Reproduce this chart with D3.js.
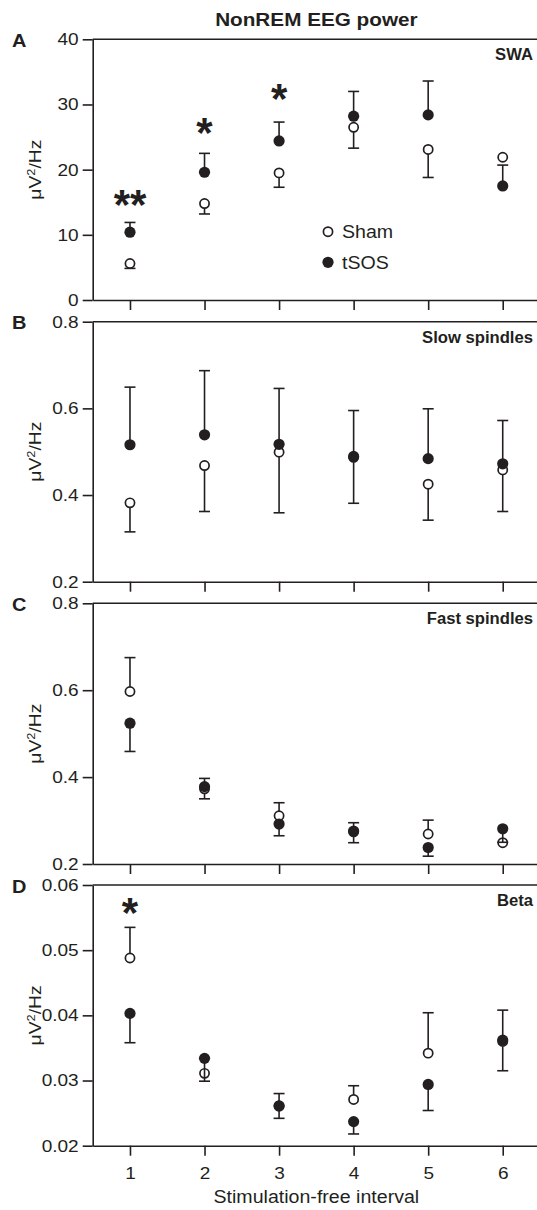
<!DOCTYPE html>
<html>
<head>
<meta charset="utf-8">
<script src="https://cdn.jsdelivr.net/npm/d3@7"></script>
<style>
  html, body { margin: 0; padding: 0; background: #fff; }
  svg { display: block; }
  text { font-family: "Liberation Sans", Arial, sans-serif; fill: #231f20; }
</style>
</head>
<body>
<svg id="chart" width="537" height="1210"></svg>
<script>
// ---------- DATA ----------
const intervals = [1, 2, 3, 4, 5, 6];
const intervalLabels = ["1", "2", "3", "4", "5", "6"];

// A: SWA
const swaSham     = [5.6, 14.8, 19.5, 26.5, 23.1, 21.9];
const swaShamErr  = [4.85, 13.2, 17.3, 23.3, 18.8, null];
const swaTsos     = [10.4, 19.6, 24.4, 28.2, 28.4, 17.5];
const swaTsosErr  = [11.9, 22.5, 27.3, 32.0, 33.6, 20.7];
const swaTicks    = [0, 10, 20, 30, 40];
const swaTickLabels = ["0", "10", "20", "30", "40"];
const swaSigX     = [1, 2, 3];
const swaSigMarks = ["**", "*", "*"];
const swaSigLevel = [16.1, 27.1, 32.3];

// B: Slow spindles
const slowSham    = [0.382, 0.468, 0.499, 0.487, 0.425, 0.458];
const slowShamErr = [0.315, 0.362, 0.359, 0.381, 0.342, 0.362];
const slowTsos    = [0.516, 0.539, 0.517, 0.489, 0.484, 0.472];
const slowTsosErr = [0.649, 0.687, 0.646, 0.595, 0.599, 0.572];
const spindleTicks = [0.2, 0.4, 0.6, 0.8];
const spindleTickLabels = ["0.2", "0.4", "0.6", "0.8"];

// C: Fast spindles
const fastSham    = [0.597, 0.373, 0.311, 0.274, 0.269, 0.249];
const fastShamErr = [0.675, 0.350, 0.341, 0.249, 0.301, null];
const fastTsos    = [0.524, 0.378, 0.292, 0.276, 0.238, 0.281];
const fastTsosErr = [0.459, 0.397, 0.265, 0.295, 0.218, 0.250];

// D: Beta
const betaSham    = [0.0488, 0.0311, 0.0261, 0.0271, 0.0342, 0.0360];
const betaShamErr = [0.0535, null, 0.0242, 0.0292, 0.0404, 0.0315];
const betaTsos    = [0.0403, 0.0334, 0.0261, 0.0237, 0.0294, 0.0362];
const betaTsosErr = [0.0358, 0.0299, 0.0280, 0.0218, 0.0254, 0.0408];
const betaTicks   = [0.02, 0.03, 0.04, 0.05, 0.06];
const betaTickLabels = ["0.02", "0.03", "0.04", "0.05", "0.06"];
const betaSigX     = [1];
const betaSigMarks = ["*"];
const betaSigLevel = [0.0572];

const seriesNames = ["Sham", "tSOS"];

// ---------- LAYOUT ----------
const ink = "#231f20";
const svg = d3.select("#chart");
const x = d3.scaleLinear().domain([0.5, 6.5]).range([92.7, 540]);
const SX = 1.12; // horizontal stretch of text

const panels = [
  {letter: "A", name: "SWA", top: 39.3, bottom: 300, domain: [0, 40], ticks: swaTicks, tickLabels: swaTickLabels,
   sham: swaSham, shamErr: swaShamErr, tsos: swaTsos, tsosErr: swaTsosErr,
   sigX: swaSigX, sigMarks: swaSigMarks, sigLevel: swaSigLevel, legend: true},
  {letter: "B", name: "Slow spindles", top: 321.7, bottom: 581.7, domain: [0.2, 0.8], ticks: spindleTicks, tickLabels: spindleTickLabels,
   sham: slowSham, shamErr: slowShamErr, tsos: slowTsos, tsosErr: slowTsosErr},
  {letter: "C", name: "Fast spindles", top: 603.3, bottom: 864, domain: [0.2, 0.8], ticks: spindleTicks, tickLabels: spindleTickLabels,
   sham: fastSham, shamErr: fastShamErr, tsos: fastTsos, tsosErr: fastTsosErr},
  {letter: "D", name: "Beta", top: 885, bottom: 1145.7, domain: [0.02, 0.06], ticks: betaTicks, tickLabels: betaTickLabels,
   sham: betaSham, shamErr: betaShamErr, tsos: betaTsos, tsosErr: betaTsosErr,
   sigX: betaSigX, sigMarks: betaSigMarks, sigLevel: betaSigLevel, xLabels: true}
];

function sText(parent, tx, ty, str, opts) {
  const t = parent.append("text")
    .attr("transform", `translate(${tx},${ty}) scale(${opts.sx || SX},1)`)
    .attr("text-anchor", opts.anchor || "start")
    .attr("font-size", opts.size)
    .attr("font-weight", opts.weight || "normal")
    .text(str);
  return t;
}

// Title
sText(svg, x(3.5), 26, "NonREM EEG power", {anchor: "middle", size: 18.5, weight: "bold"});

panels.forEach((p, pi) => {
  const y = d3.scaleLinear().domain(p.domain).range([p.bottom, p.top]);
  const g = svg.append("g");

  // top frame line
  g.append("line")
    .attr("x1", x.range()[0]).attr("x2", x.range()[1])
    .attr("y1", p.top).attr("y2", p.top)
    .attr("stroke", ink).attr("stroke-width", 1.6);

  // left axis
  const ya = g.append("g").attr("transform", `translate(${x.range()[0]},0)`)
    .call(d3.axisLeft(y).tickValues(p.ticks).tickFormat((d, i) => p.tickLabels[i])
      .tickSize(10).tickSizeOuter(0).tickPadding(4));
  ya.select(".domain").attr("stroke", ink).attr("stroke-width", 1.6);
  ya.selectAll(".tick line").attr("stroke", ink).attr("stroke-width", 1.6);
  ya.selectAll(".tick text")
    .attr("font-size", 17).attr("font-family", null).attr("fill", ink)
    .attr("x", 0)
    .attr("transform", `translate(-14,0) scale(${SX},1)`);

  // bottom axis
  const xa = g.append("g").attr("transform", `translate(0,${p.bottom})`)
    .call(d3.axisBottom(x).tickValues(intervals)
      .tickFormat((d, i) => p.xLabels ? intervalLabels[i] : "")
      .tickSize(10).tickSizeOuter(0).tickPadding(9));
  xa.select(".domain").attr("stroke", ink).attr("stroke-width", 1.6);
  xa.selectAll(".tick line").attr("stroke", ink).attr("stroke-width", 1.6);
  xa.selectAll(".tick text")
    .attr("font-size", 17).attr("font-family", null).attr("fill", ink)
    .attr("y", 0).attr("dy", null)
    .attr("transform", `translate(0,33) scale(${SX},1)`);

  // panel letter
  sText(svg, 12, p.top + 7.5, p.letter, {size: 18.5, weight: "bold", sx: 1.08});
  // panel name
  sText(g, 533, p.top + 21, p.name, {anchor: "end", size: 16, weight: "bold", sx: 1.04});

  // y label
  const yl = g.append("text")
    .attr("transform", `translate(41,${(p.top + p.bottom) / 2}) rotate(-90) scale(1.17,1)`)
    .attr("text-anchor", "middle").attr("font-size", 16.5);
  yl.append("tspan").text("μV");
  yl.append("tspan").attr("dy", -6).attr("font-size", 11).text("2");
  yl.append("tspan").attr("dy", 6).text("/Hz");

  const cap = 5.5;
  function drawSeries(vals, errs, filled) {
    const sg = g.append("g");
    vals.forEach((v, i) => {
      const e = errs[i];
      if (e !== null && e !== undefined) {
        sg.append("line")
          .attr("x1", x(intervals[i])).attr("x2", x(intervals[i]))
          .attr("y1", y(v)).attr("y2", y(e))
          .attr("stroke", ink).attr("stroke-width", 1.6);
        sg.append("line")
          .attr("x1", x(intervals[i]) - cap).attr("x2", x(intervals[i]) + cap)
          .attr("y1", y(e)).attr("y2", y(e))
          .attr("stroke", ink).attr("stroke-width", 1.6);
      }
    });
    sg.selectAll("circle").data(vals).join("circle")
      .attr("cx", (d, i) => x(intervals[i]))
      .attr("cy", d => y(d))
      .attr("r", filled ? 5.6 : 4.6)
      .attr("fill", filled ? ink : "#fff")
      .attr("stroke", filled ? "none" : ink)
      .attr("stroke-width", 1.7);
  }
  drawSeries(p.sham, p.shamErr, false);
  drawSeries(p.tsos, p.tsosErr, true);

  // significance asterisks
  if (p.sigX) {
    p.sigX.forEach((sx, i) => {
      sText(g, x(sx), y(p.sigLevel[i]) + 24, p.sigMarks[i], {anchor: "middle", size: 42, weight: "bold", sx: 1.0});
    });
  }

  // legend
  if (p.legend) {
    const lx = 328, ly = [231.7, 262.3];
    seriesNames.forEach((nm, i) => {
      g.append("circle").attr("cx", lx).attr("cy", ly[i])
        .attr("r", i === 0 ? 4.6 : 5.6)
        .attr("fill", i === 0 ? "#fff" : ink)
        .attr("stroke", i === 0 ? ink : "none").attr("stroke-width", 1.7);
      sText(g, 342, ly[i] + 6.2, nm, {size: 17.5});
    });
  }
});

// x axis title
sText(svg, x(3.5), 1203, "Stimulation-free interval", {anchor: "middle", size: 17.5});
</script>
</body>
</html>
